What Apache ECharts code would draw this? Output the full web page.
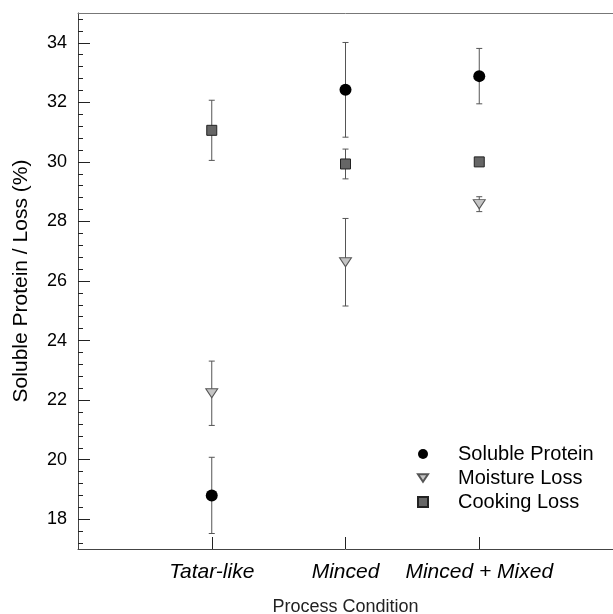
<!DOCTYPE html>
<html>
<head>
<meta charset="utf-8">
<script src="https://cdn.jsdelivr.net/npm/echarts@6/dist/echarts.min.js"></script>
<style>
  html, body { margin: 0; padding: 0; background: #fff; }
  #chart { width: 613px; height: 614px; }
</style>
</head>
<body>
<div id="chart"></div>
<script>
const categories = ['Tatar-like', 'Minced', 'Minced + Mixed'];
const catPos = [1, 2, 3];

const solubleProtein = [18.8, 32.42, 32.88];
const solubleProteinErr = [1.28, 1.59, 0.93];
const moistureLoss = [22.23, 26.63, 28.58];
const moistureLossErr = [1.08, 1.47, 0.25];
const cookingLoss = [31.06, 29.93, 30.0];
const cookingLossErr = [1.01, 0.5, 0.12];

const yTicks = [18, 20, 22, 24, 26, 28, 30, 32, 34];

const FONT = 'Liberation Sans, Arial, sans-serif';
const TRI_DOWN = 'path://M0,0L12,0L6,9Z';

// minor ticks every 0.4 between the majors
const yMinor = [];
for (let v = 17.2; v < 35; v += 0.4) {
    const r = Math.round(v * 10) / 10;
    if (yTicks.indexOf(r) < 0) yMinor.push(r);
}

function points(vals, errs) {
    return vals.map((v, i) => [catPos[i], v, errs[i]]);
}

function errorBars(name, vals, errs) {
    return {
        type: 'custom',
        name: name + ' err',
        z: 1,
        silent: true,
        data: points(vals, errs),
        renderItem: (params, api) => {
            const x = api.value(0);
            const y = api.value(1);
            const e = api.value(2);
            const top = api.coord([x, y + e]);
            const bot = api.coord([x, y - e]);
            const style = { stroke: '#555', lineWidth: 1 };
            const cap = 3;
            return {
                type: 'group',
                children: [
                    { type: 'line', shape: { x1: top[0], y1: top[1], x2: bot[0], y2: bot[1] }, style },
                    { type: 'line', shape: { x1: top[0] - cap, y1: top[1], x2: top[0] + cap, y2: top[1] }, style },
                    { type: 'line', shape: { x1: bot[0] - cap, y1: bot[1], x2: bot[0] + cap, y2: bot[1] }, style }
                ]
            };
        }
    };
}

const chart = echarts.init(document.getElementById('chart'));

chart.setOption({
    animation: false,
    backgroundColor: '#fff',
    textStyle: { fontFamily: FONT },
    grid: { left: 78, right: 0, top: 13, bottom: 65, outerBoundsMode: 'none' },
    legend: {
        orient: 'vertical',
        left: 412,
        top: 439,
        itemWidth: 10,
        itemHeight: 10,
        itemGap: 4,
        textStyle: { fontSize: 20, color: '#000', lineHeight: 20, padding: [0, 0, 0, 25] },
        data: ['Soluble Protein', 'Moisture Loss', 'Cooking Loss']
    },
    xAxis: [{
        type: 'value',
        min: 0,
        max: 4,
        interval: 1,
        name: 'Process Condition',
        nameLocation: 'middle',
        nameGap: 49,
        nameTextStyle: { fontSize: 18, color: '#222' },
        axisLine: { show: true, lineStyle: { color: '#444', width: 1 } },
        axisTick: { show: true, inside: true, length: 12, customValues: catPos, lineStyle: { color: '#222' } },
        axisLabel: {
            customValues: catPos,
            margin: 13,
            fontSize: 21,
            fontStyle: 'italic',
            color: '#000',
            formatter: v => categories[catPos.indexOf(v)] || ''
        },
        splitLine: { show: false }
    }, {
        type: 'value',
        position: 'top',
        min: 0,
        max: 4,
        axisLine: { show: true, lineStyle: { color: '#777', width: 1 } },
        axisTick: { show: false },
        axisLabel: { show: false },
        splitLine: { show: false }
    }],
    yAxis: [{
        type: 'value',
        min: 17,
        max: 35,
        name: 'Soluble Protein / Loss (%)',
        nameLocation: 'middle',
        nameGap: 46,
        nameTextStyle: { fontSize: 21, color: '#000' },
        axisLine: { show: true, lineStyle: { color: '#444', width: 1 } },
        axisTick: { show: true, inside: true, length: 12, customValues: yTicks, lineStyle: { color: '#222' } },
        axisLabel: { customValues: yTicks, margin: 11, fontSize: 18, color: '#000' },
        splitLine: { show: false }
    }, {
        type: 'value',
        position: 'left',
        min: 17,
        max: 35,
        axisLine: { show: false },
        axisTick: { show: true, inside: true, length: 5, customValues: yMinor, lineStyle: { color: '#222' } },
        axisLabel: { show: false },
        splitLine: { show: false }
    }],
    series: [
        errorBars('Soluble Protein', solubleProtein, solubleProteinErr),
        errorBars('Moisture Loss', moistureLoss, moistureLossErr),
        errorBars('Cooking Loss', cookingLoss, cookingLossErr),
        {
            type: 'scatter',
            name: 'Soluble Protein',
            z: 3,
            symbol: 'circle',
            symbolSize: 12,
            itemStyle: { color: '#000', opacity: 1 },
            data: points(solubleProtein, solubleProteinErr)
        },
        {
            type: 'scatter',
            name: 'Moisture Loss',
            z: 3,
            symbol: TRI_DOWN,
            symbolSize: [12, 9],
            itemStyle: { color: '#c4c4c4', borderColor: '#555', borderWidth: 1, opacity: 1 },
            data: points(moistureLoss, moistureLossErr)
        },
        {
            type: 'scatter',
            name: 'Cooking Loss',
            z: 3,
            symbol: 'rect',
            symbolSize: 10,
            itemStyle: { color: '#666', borderColor: '#222', borderWidth: 1, opacity: 1 },
            data: points(cookingLoss, cookingLossErr)
        }
    ]
});
</script>
</body>
</html>
